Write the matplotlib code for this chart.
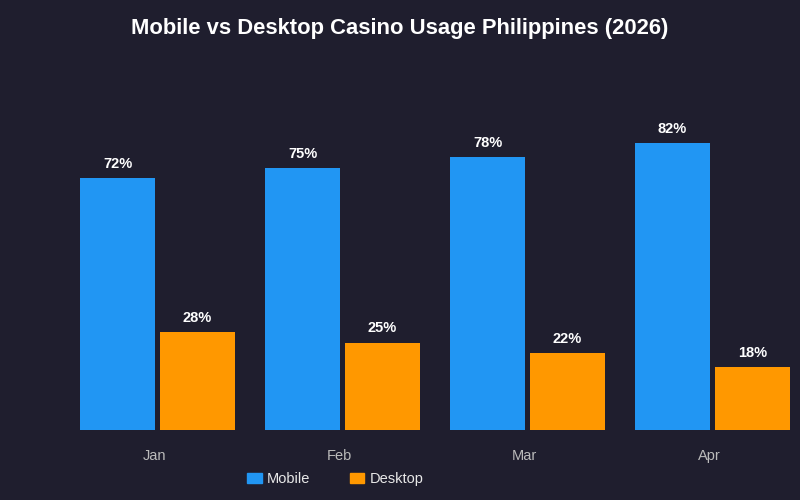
import matplotlib.pyplot as plt
import numpy as np
from matplotlib.patches import Patch

months = ["Jan", "Feb", "Mar", "Apr"]
mobile = [72, 75, 78, 82]
desktop = [28, 25, 22, 18]

BG = "#1f1e2e"
BLUE = "#2196F3"
ORANGE = "#FF9800"

plt.rcParams["font.family"] = ["Liberation Sans", "DejaVu Sans"]

fig = plt.figure(figsize=(8, 5), dpi=100)
fig.patch.set_facecolor(BG)
ax = fig.add_axes([0.08125, 0.14, 0.925, 0.70])
ax.set_facecolor(BG)

x = np.arange(len(months))
w = 0.405
off = 0.216
b1 = ax.bar(x - off, mobile, w, color=BLUE)
b2 = ax.bar(x + off, desktop, w, color=ORANGE)

for bars, vals in ((b1, mobile), (b2, desktop)):
    for rect, v in zip(bars, vals):
        ax.text(rect.get_x() + rect.get_width() / 2, v + 4.0, f"{v}%",
                ha="center", va="center", color="white",
                fontsize=10.5, fontweight="bold")

ax.set_xlim(-0.5, 3.5)
ax.set_ylim(0, 100)
for s in ax.spines.values():
    s.set_visible(False)
ax.set_yticks([])
ax.set_xticks(x - 0.015)
ax.set_xticklabels(months, color="#bbbbbb", fontsize=10.5)
ax.tick_params(axis="x", length=0, pad=14)

fig.text(0.5, 0.943, "Mobile vs Desktop Casino Usage Philippines (2026)",
         ha="center", va="center", color="white", fontsize=15.8,
         fontweight="bold")

handles = [Patch(color=BLUE, label="Mobile"), Patch(color=ORANGE, label="Desktop")]
fig.legend(handles=handles, loc="center", bbox_to_anchor=(0.419, 0.042),
           ncol=2, frameon=False, fontsize=10.5, labelcolor="#e8e8e8",
           handlelength=1.0, handleheight=0.7, handletextpad=0.35,
           columnspacing=2.7)

fig.savefig("out.png", dpi=100, facecolor=BG)
